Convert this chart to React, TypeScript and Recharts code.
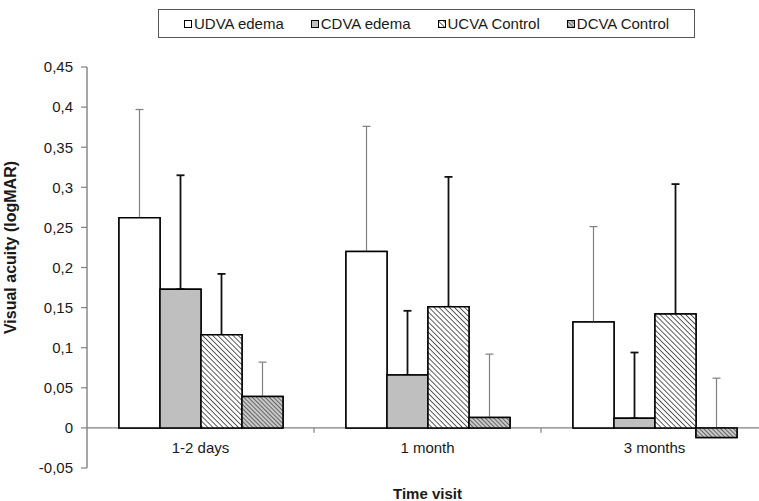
import React from "react";
import {
  BarChart, Bar, XAxis, YAxis, ErrorBar, ReferenceLine, Legend,
} from "recharts";

// visits on the x axis
const categories = ["1-2 days", "1 month", "3 months"];

// mean logMAR per series
const udva = [0.262, 0.22, 0.132];
const cdva = [0.173, 0.066, 0.012];
const ucva = [0.116, 0.151, 0.142];
const dcva = [0.039, 0.013, -0.012];

// upper error (SD) per series, drawn one-sided
const udvaSd = [0.135, 0.156, 0.119];
const cdvaSd = [0.142, 0.08, 0.082];
const ucvaSd = [0.076, 0.162, 0.162];
const dcvaSd = [0.043, 0.079, 0.074];

const yTicks = [-0.05, 0, 0.05, 0.1, 0.15, 0.2, 0.25, 0.3, 0.35, 0.4, 0.45];

const seriesNames = ["UDVA edema", "CDVA edema", "UCVA Control", "DCVA Control"];

const FONT = "Arial, 'Liberation Sans', sans-serif";
const W = 780;
const H = 501;
const MARGIN = { top: 67, right: 12, bottom: 3, left: 0 };

const data = categories.map((c, i) => ({
  name: c,
  udva: udva[i],
  cdva: cdva[i],
  ucva: ucva[i],
  dcva: dcva[i],
  udvaErr: [0, udvaSd[i]],
  cdvaErr: [0, cdvaSd[i]],
  ucvaErr: [0, ucvaSd[i]],
  dcvaErr: [0, dcvaSd[i]],
}));

const series = [
  { key: "udva", err: "udvaErr", fill: "#ffffff", errColor: "#808080", errWidth: 1.2 },
  { key: "cdva", err: "cdvaErr", fill: "#bfbfbf", errColor: "#111111", errWidth: 1.8 },
  { key: "ucva", err: "ucvaErr", fill: "url(#hatchLight)", errColor: "#111111", errWidth: 1.8 },
  { key: "dcva", err: "dcvaErr", fill: "url(#hatchDark)", errColor: "#808080", errWidth: 1.2 },
];

const fmt = (v: number) => String(Number(v.toFixed(2))).replace(".", ",");

function CategoryTick({ x, y, payload }: any) {
  return (
    <text x={x} y={y - 15} textAnchor="middle" fontSize={15} fontFamily={FONT} fill="#1a1a1a">
      {payload.value}
    </text>
  );
}

function YTitle({ viewBox }: any) {
  const cx = viewBox.x + 10;
  const cy = viewBox.y + viewBox.height / 2 - 20;
  return (
    <text
      x={cx}
      y={cy}
      transform={`rotate(-90 ${cx} ${cy})`}
      textAnchor="middle"
      dominantBaseline="central"
      fontSize={16}
      fontWeight="bold"
      fontFamily={FONT}
      fill="#1a1a1a"
    >
      Visual acuity (logMAR)
    </text>
  );
}

function LegendBox() {
  return (
    <div
      style={{
        boxSizing: "border-box",
        width: 537,
        height: 29,
        border: "1px solid #555",
        background: "#fff",
        display: "flex",
        alignItems: "center",
        paddingLeft: 25,
        gap: 27,
        fontFamily: FONT,
        fontSize: 15,
        color: "#1a1a1a",
      }}
    >
      {seriesNames.map((n, i) => (
        <div key={n} style={{ display: "flex", alignItems: "center", gap: 2 }}>
          <svg width={8} height={8} style={{ display: "block" }}>
            <rect x={0.5} y={0.5} width={7} height={7} fill={series[i].fill} stroke="#000" strokeWidth={1} />
          </svg>
          <span>{n}</span>
        </div>
      ))}
    </div>
  );
}

function Patterns() {
  return (
    <defs>
      <pattern id="hatchLight" width="3.6" height="3.6" patternUnits="userSpaceOnUse" patternTransform="rotate(45)">
        <rect width="3.6" height="3.6" fill="#ffffff" />
        <line x1="0" y1="0" x2="3.6" y2="0" stroke="#1a1a1a" strokeWidth="1.4" />
      </pattern>
      <pattern id="hatchDark" width="3" height="3" patternUnits="userSpaceOnUse" patternTransform="rotate(45)">
        <rect width="3" height="3" fill="#c8c8c8" />
        <line x1="0" y1="0" x2="3" y2="0" stroke="#262626" strokeWidth="1.2" />
      </pattern>
    </defs>
  );
}

// bottom layer: axes, bars and error bars
function BaseChart() {
  return (
    <BarChart width={W} height={H} data={data} margin={MARGIN} barGap={0}>
      <Patterns />
      <XAxis
        dataKey="name"
        axisLine={false}
        tickLine={false}
        tickSize={0}
        tickMargin={0}
        height={30}
        tick={<CategoryTick />}
        label={{
          value: "Time visit",
          position: "insideBottom",
          offset: -1,
          fontSize: 15,
          fontWeight: "bold",
          fontFamily: FONT,
          fill: "#1a1a1a",
        }}
      />
      <YAxis
        width={87}
        domain={[-0.05, 0.45]}
        ticks={yTicks}
        interval={0}
        tickFormatter={fmt}
        axisLine={{ stroke: "#808080", strokeWidth: 1.4 }}
        tickLine={{ stroke: "#808080", strokeWidth: 1.2 }}
        tickSize={6}
        tickMargin={8}
        tick={{ fontSize: 15, fontFamily: FONT, fill: "#1a1a1a" }}
        label={<YTitle />}
      />
      <ReferenceLine y={0} stroke="#808080" strokeWidth={1.3} />
      {categories.slice(1).map((c) => (
        <ReferenceLine
          key={c}
          segment={[{ x: c, y: 0 }, { x: c, y: -0.006 }]}
          position="start"
          stroke="#808080"
          strokeWidth={1.2}
        />
      ))}
      <Legend
        layout="horizontal"
        verticalAlign="middle"
        align="center"
        wrapperStyle={{ position: "absolute", left: 158, top: 9, width: 537 }}
        content={() => <LegendBox />}
      />
      {series.map((s) => (
        <Bar
          key={s.key}
          dataKey={s.key}
          fill={s.fill}
          stroke="#000"
          strokeWidth={1.5}
          barSize={41}
          isAnimationActive={false}
        >
          <ErrorBar
            dataKey={s.err}
            direction="y"
            width={4}
            stroke={s.errColor}
            strokeWidth={s.errWidth}
            isAnimationActive={false}
          />
        </Bar>
      ))}
    </BarChart>
  );
}

// top layer: the same bars again, so the lower error caps sit under them
function BarsOnTop() {
  return (
    <BarChart width={W} height={H} data={data} margin={MARGIN} barGap={0}>
      <XAxis dataKey="name" axisLine={false} tickLine={false} tick={false} height={30} />
      <YAxis width={87} domain={[-0.05, 0.45]} ticks={yTicks} axisLine={false} tickLine={false} tick={false} />
      {series.map((s) => (
        <Bar
          key={s.key}
          dataKey={s.key}
          fill={s.fill}
          stroke="#000"
          strokeWidth={1.5}
          barSize={41}
          isAnimationActive={false}
        />
      ))}
    </BarChart>
  );
}

export default function App() {
  return (
    <div
      style={{
        position: "absolute",
        left: 0,
        top: 0,
        width: 759,
        height: 501,
        overflow: "hidden",
        background: "#fff",
      }}
    >
      <div style={{ position: "absolute", left: 0, top: 0 }}>
        <BaseChart />
      </div>
      <div style={{ position: "absolute", left: 0, top: 0, pointerEvents: "none" }}>
        <BarsOnTop />
      </div>
    </div>
  );
}
